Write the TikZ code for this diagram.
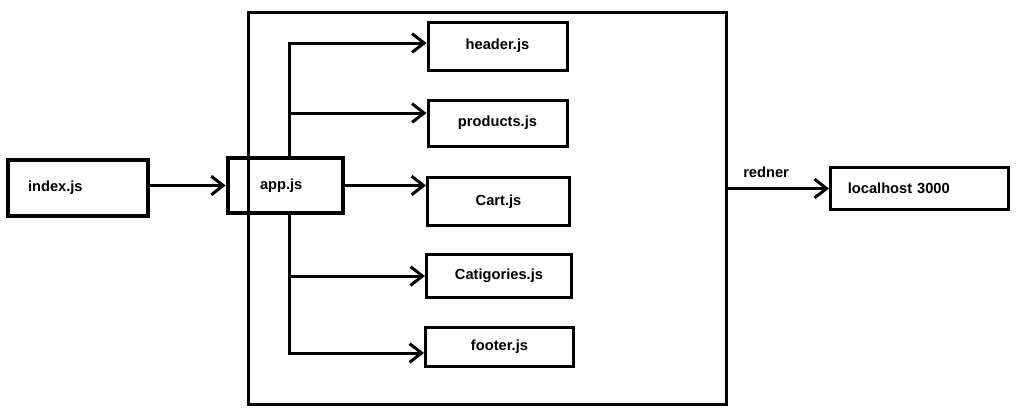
\documentclass[tikz,border=0pt]{standalone}
\usepackage{fontspec}
\setmainfont{Liberation Sans}
\usetikzlibrary{shapes, arrows.meta, positioning}
\tikzstyle{box} = [rectangle, draw, line width=2.25pt, inner sep=0pt, font=\fontsize{11}{13}\selectfont\bfseries]
\tikzstyle{tbox} = [box, line width=3.5pt, align=left]
\tikzstyle{line} = [draw, line width=2.25pt]
\tikzstyle{arrow} = [line, -{Straight Barb[length=9pt, width=14pt]}]

\begin{document}
\begin{tikzpicture}[x=0.75pt, y=-0.75pt]
			\useasboundingbox (0,0) rectangle (1022,419);
			\node [box, minimum width=358.5pt, minimum height=294pt] (main) at (487,208) {};
			\node [tbox, minimum height=42pt, inner xsep=15pt, text width=75pt] (index) at (78,188) {index.js};
			\node [tbox, minimum height=41.25pt, inner xsep=24pt, text width=38.25pt] (app) at (285.5,185.5) {app.js};
			\node [box, minimum width=104.25pt, minimum height=36pt] (header) at (497.5,46) {header.js};
			\node [box, minimum width=104.25pt, minimum height=34.5pt] (products) at (497.5,123) {products.js};
			\node [box, minimum width=106.5pt, minimum height=36pt] (cart) at (498.5,201.5) {Cart.js};
			\node [box, minimum width=108.75pt, minimum height=32.25pt] (catigories) at (499,276) {Catigories.js};
			\node [box, minimum width=111pt, minimum height=29.25pt] (footer) at (499.5,347) {footer.js};
			\node [box, minimum height=31.5pt, inner xsep=13pt, text width=107.5pt, align=left] (localhost) at (919.5,188.5) {localhost 3000};
			
			\coordinate (ttop) at (289,43);
			\coordinate (b2) at (289,113);
			\coordinate (b4) at (289,276);
			\coordinate (tbot) at (289,353);
			
			\path [line, line cap=rect] (ttop) -- (ttop |- app.north);
			\path [line, line cap=rect] (ttop |- app.south) -- (tbot);
			\path [arrow] (index.east |- app.west) -- (app.west);
			\path [arrow] (ttop) -- (ttop -| header.west);
			\path [arrow] (b2) -- (b2 -| products.west);
			\path [arrow] (app.east) -- (app.east -| cart.west);
			\path [arrow] (b4) -- (b4 -| catigories.west);
			\path [arrow] (tbot) -- (tbot -| footer.west);
			\path [arrow] (main.east |- localhost.west) -- node [above=4pt, pos=0.38, font=\fontsize{11}{13}\selectfont\bfseries] (render) {redner} (localhost.west);
		\end{tikzpicture}
\end{document}
